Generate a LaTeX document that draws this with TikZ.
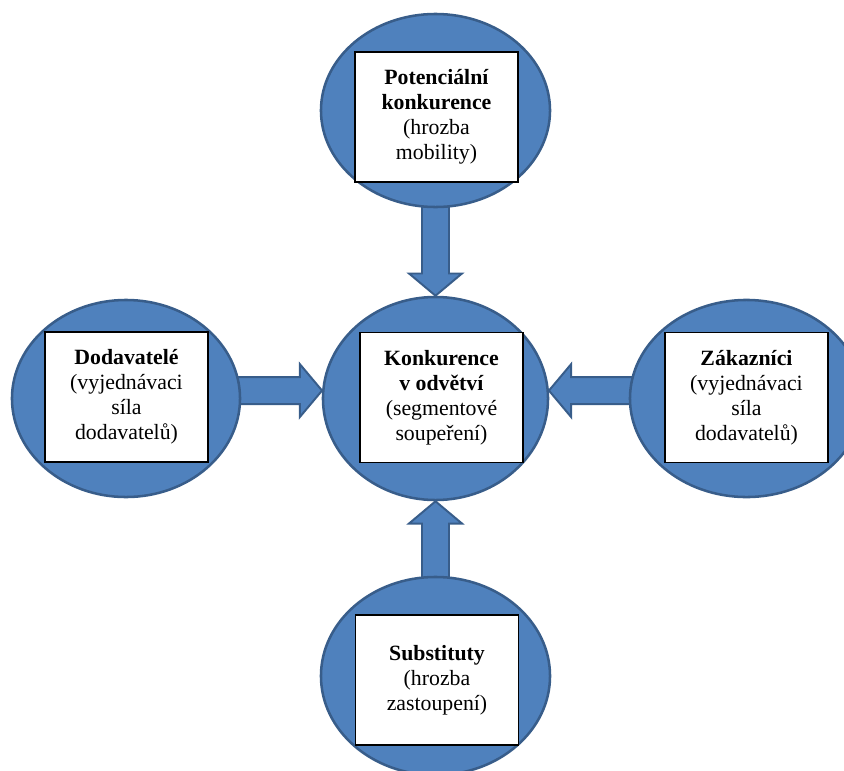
\documentclass[tikz,border=0pt]{standalone}
\usepackage{fontspec}
\setmainfont{Liberation Serif}
\usetikzlibrary{shapes.geometric,shapes.arrows,calc,backgrounds}

\definecolor{fillblue}{HTML}{4F81BD}
\definecolor{edgeblue}{HTML}{385D8A}

\tikzset{
  force/.style={ellipse, draw=edgeblue, fill=fillblue, line width=1.8pt, inner sep=0pt},
  forcebox/.style={draw, fill=white, line width=0.8pt, minimum width=4.075cm,
    minimum height=3.25cm, align=center, inner sep=2pt,
    font=\fontsize{15.5}{17.8}\selectfont},
  bigarrow/.style={single arrow, draw=edgeblue, fill=fillblue, line width=1.4pt,
    inner xsep=0pt, inner ysep=0.3125cm, outer sep=0pt, anchor=tip,
    single arrow head extend=0.325cm, single arrow head indent=0pt,
    single arrow tip angle=100}
}

\begin{document}
\begin{tikzpicture}[x=0.025cm,y=-0.025cm]
  \useasboundingbox (0,0) rectangle (844,771);
  \clip (0,0) rectangle (844,771);

  % the five blue ellipses
  \node[force, minimum width=5.725cm, minimum height=4.825cm] (potE) at (435.5,110.5) {};
  \node[force, minimum width=5.625cm, minimum height=5.075cm] (midE) at (435.5,398.5) {};
  \node[force, minimum width=5.7cm, minimum height=4.925cm] (supE) at (126,398.5) {};
  \node[force, minimum width=5.825cm, minimum height=4.925cm] (cusE) at (746.5,398.5) {};
  \node[force, minimum width=5.725cm, minimum height=4.95cm] (subE) at (435.5,676) {};

  % block arrows pointing into the middle, tails hidden under the outer ellipses
  \begin{scope}[on background layer]
    \foreach \a/\b/\r in {potE.south/midE.north/-90, supE.4/midE.176/0,
                          cusE.176/midE.4/180, subE.north/midE.south/90}
      \path let \p1=(\a), \p2=(\b), \n1={veclen(\x2-\x1,\y2-\y1)+8pt} in
        node[bigarrow, minimum height=\n1, rotate=\r] at (\b) {};
  \end{scope}

  % white boxes with the texts
  \node[forcebox] (pot) at (436.5,117) {\textbf{Potenciální}\\\textbf{konkurence}\\(hrozba\\mobility)};
  \node[forcebox] (mid) at (441.5,397.5) {\textbf{Konkurence}\\\textbf{v odvětví}\\(segmentové\\soupeření)};
  \node[forcebox] (sup) at (126.5,397) {\textbf{Dodavatelé}\\(vyjednávaci\\síla\\dodavatelů)};
  \node[forcebox] (cus) at (746.5,397.5) {\textbf{Zákazníci}\\(vyjednávaci\\síla\\dodavatelů)};
  \node[forcebox] (sub) at (437,680) {\textbf{Substituty}\\(hrozba\\zastoupení)};
\end{tikzpicture}
\end{document}
